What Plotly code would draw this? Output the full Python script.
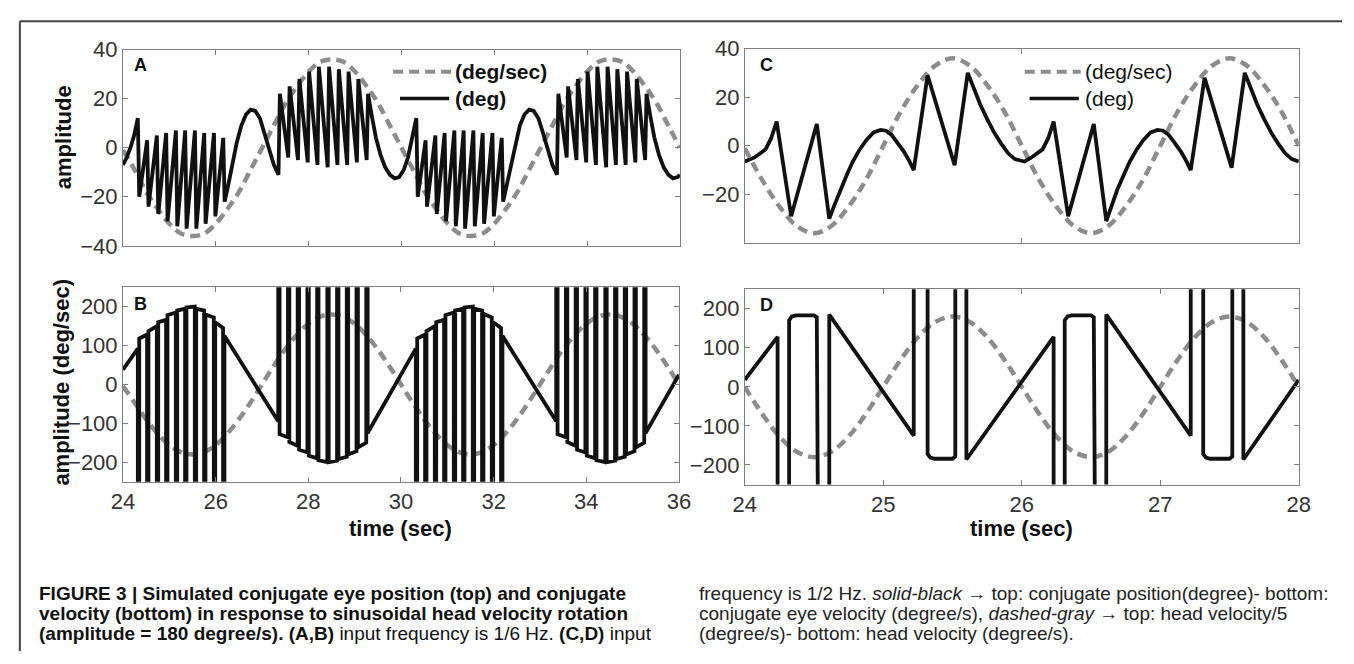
import plotly.graph_objects as go

W, H = 1354, 664

# ---------------- data ----------------
# head velocity samples (dashed gray)
T_SLOW = [24.0, 24.25, 24.5, 24.75, 25.0, 25.25, 25.5, 25.75, 26.0, 26.25, 26.5, 26.75,
          27.0, 27.25, 27.5, 27.75, 28.0, 28.25, 28.5, 28.75, 29.0, 29.25, 29.5, 29.75,
          30.0, 30.25, 30.5, 30.75, 31.0, 31.25, 31.5, 31.75, 32.0, 32.25, 32.5, 32.75,
          33.0, 33.25, 33.5, 33.75, 34.0, 34.25, 34.5, 34.75, 35.0, 35.25, 35.5, 35.75, 36.0]
A_HEAD = [-1, -9, -18, -25, -31, -35, -36, -35, -31, -25, -18, -9, 0,
          9, 18, 25, 31, 35, 36, 35, 31, 25, 18, 9, 0,
          -9, -18, -25, -31, -35, -36, -35, -31, -25, -18, -9, 0,
          9, 18, 25, 31, 35, 36, 35, 31, 25, 18, 9, 0]
B_HEAD = [-4, -47, -90, -127, -156, -174, -180, -174, -156, -127, -90, -47, 0,
          47, 90, 127, 156, 174, 180, 174, 156, 127, 90, 47, 0,
          -47, -90, -127, -156, -174, -180, -174, -156, -127, -90, -47, 0,
          47, 90, 127, 156, 174, 180, 174, 156, 127, 90, 47, 0]

T_FAST = [24.0, 24.125, 24.25, 24.375, 24.5, 24.625, 24.75, 24.875, 25.0, 25.125, 25.25,
          25.375, 25.5, 25.625, 25.75, 25.875, 26.0, 26.125, 26.25, 26.375, 26.5, 26.625,
          26.75, 26.875, 27.0, 27.125, 27.25, 27.375, 27.5, 27.625, 27.75, 27.875, 28.0]
C_HEAD = [-1, -14, -25, -33, -36, -33, -25, -14, 0, 14, 25, 33, 36, 33, 25, 14, 0,
          -14, -25, -33, -36, -33, -25, -14, 0, 14, 25, 33, 36, 33, 25, 14, 0]
D_HEAD = [0, -69, -127, -166, -180, -166, -127, -69, 0, 69, 127, 166, 180, 166, 127, 69, 0,
          -69, -127, -166, -180, -166, -127, -69, 0, 69, 127, 166, 180, 166, 127, 69, 0]

# conjugate eye position, 1/6 Hz (panel A)
A_EYE_T = [24.00, 24.08, 24.16, 24.24, 24.32,
           24.35, 24.52, 24.55, 24.73, 24.76, 24.93, 24.96, 25.14, 25.17, 25.34,
           25.37, 25.55, 25.58, 25.75, 25.78, 25.96, 25.99, 26.16, 26.19,
           26.27, 26.36, 26.45, 26.55, 26.65, 26.75, 26.85, 26.95, 27.05, 27.15, 27.25, 27.35,
           27.38, 27.56, 27.59, 27.77, 27.80, 27.98, 28.01, 28.19, 28.22, 28.41,
           28.44, 28.62, 28.65, 28.83, 28.86, 29.04, 29.07, 29.25, 29.28,
           29.36, 29.45, 29.55, 29.65, 29.75, 29.85, 29.95, 30.05, 30.14, 30.22, 30.32,
           30.35, 30.52, 30.55, 30.73, 30.76, 30.93, 30.96, 31.14, 31.17, 31.34,
           31.37, 31.55, 31.58, 31.75, 31.78, 31.96, 31.99, 32.16, 32.19,
           32.27, 32.36, 32.45, 32.55, 32.65, 32.75, 32.85, 32.95, 33.05, 33.15, 33.25, 33.35,
           33.38, 33.56, 33.59, 33.77, 33.80, 33.98, 34.01, 34.19, 34.22, 34.41,
           34.44, 34.62, 34.65, 34.83, 34.86, 35.04, 35.07, 35.25, 35.28,
           35.36, 35.45, 35.55, 35.65, 35.75, 35.85, 35.95, 36.00]
A_EYE_POS = [-7, -4, 0, 5, 12,
             -20, 3, -24, 5, -27, 6, -30, 7, -32, 7,
             -33, 7, -33, 6, -31, 6, -28, 4, -22,
             -15, -6, 2, 9, 13.5, 15.5, 15, 12, 6, -1, -7, -11,
             22, -4, 25, -5, 28, -6, 31, -7, 33, -8,
             33, -7, 32, -7, 31, -6, 28, -5, 22,
             13, 4, -3, -8, -11, -12.5, -12, -9, -4, 3, 12,
             -20, 3, -24, 5, -27, 6, -30, 7, -32, 7,
             -33, 7, -32, 6, -31, 6, -28, 4, -22,
             -15, -6, 2, 9, 13.5, 15.5, 15, 12, 6, -1, -7, -11,
             22, -4, 25, -5, 28, -6, 31, -7, 33, -8,
             33, -7, 32, -7, 31, -6, 28, -5, 22,
             13, 4, -3, -8, -11, -12.5, -12, -11]

# conjugate eye velocity, 1/6 Hz (panel B): slow-phase segments + off-scale quick phases
B_SEG_T0 = [24.00, 24.35, 24.55, 24.76, 24.96, 25.17, 25.37, 25.58, 25.78, 25.99, 26.19,
            27.38, 27.59, 27.80, 28.01, 28.22, 28.44, 28.65, 28.86, 29.07, 29.28,
            30.35, 30.55, 30.76, 30.96, 31.17, 31.37, 31.58, 31.78, 31.99, 32.19,
            33.38, 33.59, 33.80, 34.01, 34.22, 34.44, 34.65, 34.86, 35.07, 35.28]
B_SEG_T1 = [24.32, 24.52, 24.73, 24.93, 25.14, 25.34, 25.55, 25.75, 25.96, 26.16,
            27.35, 27.56, 27.77, 27.98, 28.19, 28.41, 28.62, 28.83, 29.04, 29.25,
            30.32, 30.52, 30.73, 30.93, 31.14, 31.34, 31.55, 31.75, 31.96, 32.16,
            33.35, 33.56, 33.77, 33.98, 34.19, 34.41, 34.62, 34.83, 35.04, 35.25, 36.00]
B_SEG_V0 = [38, 118, 137, 160, 178, 190, 198, 195, 180, 160,
            125, -128, -148, -168, -183, -195, -200, -192, -180, -162,
            -125, 118, 137, 160, 178, 190, 198, 195, 182, 160,
            125, -128, -148, -168, -183, -195, -200, -192, -180, -162, -125]
B_SEG_V1 = [92, 128, 150, 166, 185, 195, 200, 190, 172, 145,
            -95, -136, -158, -175, -190, -200, -196, -186, -172, -150,
            92, 128, 150, 166, 185, 195, 200, 190, 172, 145,
            -95, -136, -158, -175, -190, -200, -196, -186, -172, -150, 25]
B_QUICK = [-450, -450, -450, -450, -450, -450, -450, -450, -450, -450,
           450, 450, 450, 450, 450, 450, 450, 450, 450, 450,
           -450, -450, -450, -450, -450, -450, -450, -450, -450, -450,
           450, 450, 450, 450, 450, 450, 450, 450, 450, 450]

# conjugate eye position, 1/2 Hz (panel C)
C_EYE_T = [24.00, 24.07, 24.15, 24.19, 24.23, 24.335, 24.52, 24.61,
           24.65, 24.69, 24.74, 24.78, 24.83, 24.88, 24.93, 24.98, 25.02, 25.06, 25.10, 25.15, 25.19, 25.22,
           25.32, 25.515, 25.61, 25.65, 25.70, 25.75, 25.80, 25.85, 25.90, 25.95, 26.02,
           26.07, 26.15, 26.19, 26.23, 26.335, 26.52, 26.61,
           26.65, 26.69, 26.74, 26.78, 26.83, 26.88, 26.93, 26.98, 27.02, 27.06, 27.10, 27.15, 27.19, 27.22,
           27.32, 27.515, 27.61, 27.65, 27.70, 27.75, 27.80, 27.85, 27.90, 27.95, 28.00]
C_EYE_POS = [-6.5, -4.8, -1.5, 3, 10, -29, 9, -30,
             -24, -18, -11.5, -6.5, -1.5, 2.5, 5.5, 6.5, 6.2, 4.5, 1.5, -2.5, -6.5, -10,
             29, -8, 30, 24, 17, 11, 5.5, 1, -3, -5.5, -6.5,
             -4.8, -1.5, 3, 10, -29, 9, -31,
             -24, -18, -11.5, -6.5, -1.5, 2.5, 5.5, 6.5, 6.2, 4.5, 1.5, -2.5, -6.5, -10,
             28, -9, 30, 24, 17, 11, 5.5, 1, -3, -5.5, -6.5]

# conjugate eye velocity, 1/2 Hz (panel D); +-450 = off-scale quick phases
D_EYE_T = [24.00, 24.237, 24.237, 24.32, 24.32, 24.34, 24.37, 24.50, 24.52, 24.53, 24.61, 24.61,
           25.22, 25.22, 25.32, 25.32, 25.34, 25.37, 25.50, 25.52, 25.52, 25.60, 25.60,
           26.23, 26.23, 26.31, 26.31, 26.33, 26.36, 26.50, 26.52, 26.53, 26.61, 26.61,
           27.22, 27.22, 27.31, 27.31, 27.33, 27.36, 27.50, 27.52, 27.52, 27.60, 27.60, 28.00]
D_EYE_VEL = [18, 128, -450, -450, 170, 180, 183, 183, 178, -450, -450, 185,
             -125, 450, 450, -172, -181, -184, -184, -178, 450, 450, -186,
             128, -450, -450, 170, 180, 183, 183, 178, -450, -450, 185,
             -125, 450, 450, -172, -181, -184, -184, -178, 450, 450, -186, 18]

X_TICKS_SLOW = [24, 26, 28, 30, 32, 34, 36]
X_TICKS_FAST_TOP = [24, 26, 28]
X_TICKS_FAST = [24, 25, 26, 27, 28]
Y_TICKS_POS_A = [-40, -20, 0, 20, 40]
Y_TICKS_POS_C = [-20, 0, 20, 40]
Y_TICKS_VEL = [-200, -100, 0, 100, 200]

# assemble panel B polyline from its slow-phase segments
b_t, b_v = [], []
for i in range(len(B_SEG_T0)):
    b_t += [B_SEG_T0[i], B_SEG_T1[i]]
    b_v += [B_SEG_V0[i], B_SEG_V1[i]]
    if i < len(B_QUICK):
        b_t += [B_SEG_T1[i], B_SEG_T0[i + 1]]
        b_v += [B_QUICK[i], B_QUICK[i]]

# ---------------- styling ----------------
FONT = "Liberation Sans, Arial, Helvetica, sans-serif"
GRAY = "#8c8c8c"
BLACK = "#111111"
AXC = "#7f7f7f"
DASH = "10px,6px"


def px_x(v):
    return v / W


def px_y(v):
    return 1 - v / H


# panel boxes in pixels: (left, right, top, bottom)
BOX = {
    "A": (113, 680, 39, 243),
    "B": (113, 679, 286, 488),
    "C": (746, 1310, 38, 240),
    "D": (746, 1310, 288, 491),
}

fig = go.Figure()


def add(x, y, xa, ya, kind):
    if kind == "head":
        line = dict(color=GRAY, width=4.5, dash=DASH, shape="spline")
    else:
        line = dict(color=BLACK, width=3.8)
    fig.add_trace(go.Scatter(x=x, y=y, mode="lines", line=line, xaxis=xa, yaxis=ya,
                             showlegend=False, hoverinfo="skip"))


add(T_SLOW, A_HEAD, "x", "y", "head")
add(A_EYE_T, A_EYE_POS, "x", "y", "eye")
add(T_SLOW, B_HEAD, "x2", "y2", "head")
add(b_t, b_v, "x2", "y2", "eye")
add(T_FAST, C_HEAD, "x3", "y3", "head")
add(C_EYE_T, C_EYE_POS, "x3", "y3", "eye")
add(T_FAST, D_HEAD, "x4", "y4", "head")
add(D_EYE_T, D_EYE_VEL, "x4", "y4", "eye")


def axis(dom, rng, tickvals, labels, anchor):
    return dict(domain=dom, range=rng, tickvals=tickvals, showticklabels=labels,
                ticks="inside", ticklen=5, tickwidth=1, tickcolor=AXC,
                showline=True, linecolor=AXC, linewidth=1, mirror="ticks",
                showgrid=False, zeroline=False, anchor=anchor, fixedrange=True,
                tickfont=dict(family=FONT, size=22, color="#333333"))


def xdom(k):
    l, r, t, b = BOX[k]
    return [px_x(l), px_x(r)]


def ydom(k):
    l, r, t, b = BOX[k]
    return [px_y(b), px_y(t)]


layout = dict(
    width=W, height=H, autosize=False,
    margin=dict(l=0, r=0, t=0, b=0, pad=0),
    paper_bgcolor="white", plot_bgcolor="white",
    showlegend=False,
    xaxis=axis(xdom("A"), [24, 36], X_TICKS_SLOW, False, "y"),
    yaxis=axis(ydom("A"), [-40, 40], Y_TICKS_POS_A, True, "x"),
    xaxis2=axis(xdom("B"), [24, 36], X_TICKS_SLOW, True, "y2"),
    yaxis2=axis(ydom("B"), [-250, 250], Y_TICKS_VEL, True, "x2"),
    xaxis3=axis(xdom("C"), [24, 28], X_TICKS_FAST_TOP, False, "y3"),
    yaxis3=axis(ydom("C"), [-40, 40], Y_TICKS_POS_C, True, "x3"),
    xaxis4=axis(xdom("D"), [24, 28], X_TICKS_FAST, True, "y4"),
    yaxis4=axis(ydom("D"), [-250, 250], Y_TICKS_VEL, True, "x4"),
)
fig.update_layout(**layout)

anns = []


def ann(text, x, y, size, xanchor="center", angle=0, color="#111111", yanchor="middle"):
    anns.append(dict(text=text, x=px_x(x), y=px_y(y), xref="paper", yref="paper",
                     showarrow=False, xanchor=xanchor, yanchor=yanchor, textangle=angle,
                     font=dict(family=FONT, size=size, color=color)))


# panel letters
ann("<b>A</b>", 131, 55, 18)
ann("<b>B</b>", 131, 303, 18)
ann("<b>C</b>", 768, 55, 18)
ann("<b>D</b>", 768, 304, 18)

# axis titles
ann("<b>amplitude</b>", 52, 130, 22, angle=-90)
ann("<b>amplitude (deg/sec)</b>", 50, 385, 22, angle=-90)
ann("<b>time (sec)</b>", 396, 537, 22)
ann("<b>time (sec)</b>", 1028, 537, 22)

# legends (drawn inside panels A and C)
shapes = []


def seg(x0, x1, y, dash, color, width):
    shapes.append(dict(type="line", xref="paper", yref="paper",
                       x0=px_x(x0), x1=px_x(x1), y0=px_y(y), y1=px_y(y),
                       line=dict(color=color, width=width, dash=dash)))


seg(388, 447, 62, DASH, GRAY, 4)
seg(395, 445, 90, "solid", BLACK, 3.5)
ann("<b>(deg/sec)</b>", 449, 62, 21, xanchor="left")
ann("<b>(deg)</b>", 449, 90, 21, xanchor="left")

seg(1031, 1088, 62, DASH, GRAY, 4)
seg(1036, 1086, 90, "solid", BLACK, 3.5)
ann("(deg/sec)", 1090, 62, 21, xanchor="left")
ann("(deg)", 1090, 90, 21, xanchor="left")

# outer frame
shapes.append(dict(type="line", xref="paper", yref="paper", x0=px_x(8), x1=1,
                   y0=px_y(9.5), y1=px_y(9.5), line=dict(color="#444444", width=2)))
shapes.append(dict(type="line", xref="paper", yref="paper", x0=px_x(8), x1=px_x(8),
                   y0=px_y(9.5), y1=0, line=dict(color="#444444", width=2)))

# caption
CAP = 19
ann("<b>FIGURE 3 | Simulated conjugate eye position (top) and conjugate</b>", 25, 604, CAP, xanchor="left")
ann("<b>velocity (bottom) in response to sinusoidal head velocity rotation</b>", 25, 625, CAP, xanchor="left")
ann("<b>(amplitude = 180 degree/s). (A,B)</b> input frequency is 1/6 Hz. <b>(C,D)</b> input", 25, 646, CAP, xanchor="left")
ann("frequency is 1/2 Hz. <i>solid-black</i> \u2192 top: conjugate position(degree)- bottom:", 697, 604, CAP, xanchor="left", color="#222222")
ann("conjugate eye velocity (degree/s), <i>dashed-gray</i> \u2192 top: head velocity/5", 697, 625, CAP, xanchor="left", color="#222222")
ann("(degree/s)- bottom: head velocity (degree/s).", 697, 646, CAP, xanchor="left", color="#222222")

fig.update_layout(annotations=anns, shapes=shapes)
fig.write_html("out.html")
